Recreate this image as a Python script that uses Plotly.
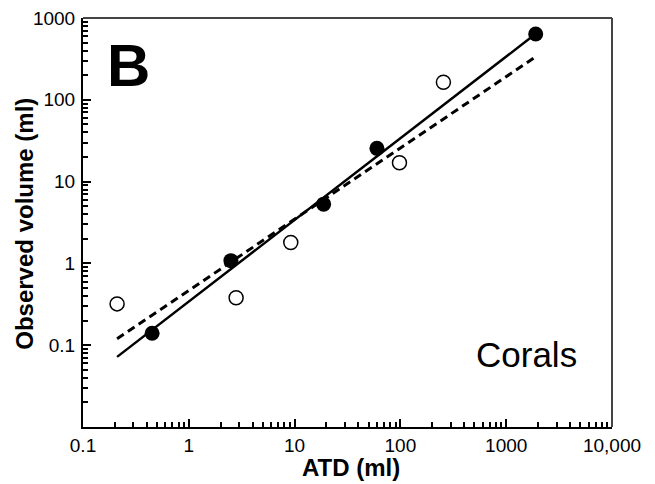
import plotly.graph_objects as go

# Data
filled_x = [0.45, 2.5, 18.8, 60, 1900]
filled_y = [0.14, 1.08, 5.3, 25.5, 637]
open_x = [0.21, 2.8, 9.2, 98, 255]
open_y = [0.32, 0.38, 1.8, 17, 164]
fit_x = [0.21, 1900]
solid_fit_y = [0.072, 640]
dashed_fit_y = [0.12, 335]

x_tickvals = [0.1, 1, 10, 100, 1000, 10000]
x_ticktext = ["0.1", "1", "10", "100", "1000", "10,000"]
y_tickvals = [0.1, 1, 10, 100, 1000]
y_ticktext = ["0.1", "1", "10", "100", "1000"]

def minor_vals(lo_exp, hi_exp):
    vals = []
    for e in range(lo_exp, hi_exp):
        for m in range(2, 10):
            vals.append(m * 10 ** e)
    return vals

fig = go.Figure()
fig.add_trace(go.Scatter(x=fit_x, y=dashed_fit_y, mode="lines",
                         line=dict(color="black", width=3, dash="8px,5px"),
                         showlegend=False))
fig.add_trace(go.Scatter(x=fit_x, y=solid_fit_y, mode="lines",
                         line=dict(color="black", width=2.5),
                         showlegend=False))
fig.add_trace(go.Scatter(x=open_x, y=open_y, mode="markers",
                         marker=dict(symbol="circle", size=14, color="white",
                                     line=dict(color="black", width=1.5)),
                         showlegend=False))
fig.add_trace(go.Scatter(x=filled_x, y=filled_y, mode="markers",
                         marker=dict(symbol="circle", size=15, color="black",
                                     line=dict(color="black", width=0)),
                         showlegend=False))

axis_font = dict(family="Liberation Sans, Arial, sans-serif", size=19, color="black")
title_font = dict(family="Liberation Sans, Arial, sans-serif", size=24, color="black")

fig.update_xaxes(type="log", range=[-1, 4], showgrid=False, zeroline=False,
                 showline=True, linecolor="black", linewidth=2, automargin=False,
                 tickmode="array", tickvals=x_tickvals, ticktext=x_ticktext,
                 ticks="inside", ticklen=8, tickwidth=1.5, tickcolor="black",
                 tickfont=axis_font, ticklabelstandoff=0, ticklabeloverflow="allow",
                 minor=dict(tickmode="array", tickvals=minor_vals(-1, 4),
                            ticks="inside", ticklen=5, tickwidth=1.5, tickcolor="black"))
fig.update_yaxes(type="log", range=[-2, 3], showgrid=False, zeroline=False,
                 showline=True, linecolor="black", linewidth=2, automargin=False,
                 tickmode="array", tickvals=y_tickvals, ticktext=y_ticktext,
                 ticks="inside", ticklen=8, tickwidth=1.5, tickcolor="black",
                 tickfont=axis_font, ticklabelstandoff=2, ticklabeloverflow="allow",
                 minor=dict(tickmode="array", tickvals=minor_vals(-2, 3),
                            ticks="inside", ticklen=5, tickwidth=1.5, tickcolor="black"))

# top and right frame lines
fig.add_shape(type="line", xref="paper", yref="paper", x0=0, x1=1, y0=1, y1=1,
              line=dict(color="#444444", width=2))
fig.add_shape(type="line", xref="paper", yref="paper", x0=1, x1=1, y0=0, y1=1,
              line=dict(color="#444444", width=2))

fig.add_annotation(text="<b>ATD (ml)</b>", xref="paper", yref="paper", x=0.506, y=-0.1,
                   showarrow=False, xanchor="center", yanchor="middle", font=title_font)
fig.add_annotation(text="<b>Observed volume (ml)</b>", xref="paper", yref="paper",
                   x=-0.1096, y=0.497, textangle=-90,
                   showarrow=False, xanchor="center", yanchor="middle", font=title_font)
fig.add_annotation(text="<b>B</b>", xref="paper", yref="paper", x=0.086, y=0.885,
                   showarrow=False, xanchor="center", yanchor="middle",
                   font=dict(family="Liberation Sans, Arial, sans-serif", size=60, color="black"))
fig.add_annotation(text="Corals", xref="paper", yref="paper", x=0.839, y=0.178,
                   showarrow=False, xanchor="center", yanchor="middle",
                   font=dict(family="Liberation Sans, Arial, sans-serif", size=35, color="black"))

# the page body adds an 8px margin, so the figure is offset by 8px in the window
fig.update_layout(width=647, height=476, margin=dict(l=75, r=43, t=10, b=57),
                  paper_bgcolor="white", plot_bgcolor="white", showlegend=False)

fig.write_html("out.html")
